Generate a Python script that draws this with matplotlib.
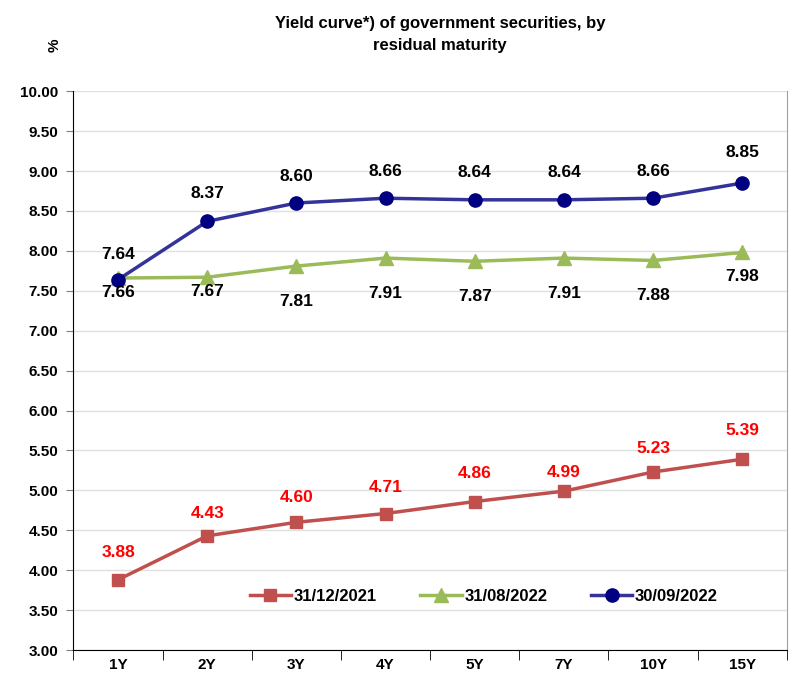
import matplotlib.pyplot as plt

plt.rcParams['font.family'] = ['Liberation Sans', 'DejaVu Sans']

maturities = ['1Y', '2Y', '3Y', '4Y', '5Y', '7Y', '10Y', '15Y']
dec_2021 = [3.88, 4.43, 4.60, 4.71, 4.86, 4.99, 5.23, 5.39]
aug_2022 = [7.66, 7.67, 7.81, 7.91, 7.87, 7.91, 7.88, 7.98]
sep_2022 = [7.64, 8.37, 8.60, 8.66, 8.64, 8.64, 8.66, 8.85]
y_ticks = [3.0, 3.5, 4.0, 4.5, 5.0, 5.5, 6.0, 6.5, 7.0, 7.5, 8.0, 8.5, 9.0, 9.5, 10.0]

# vertical label offsets in pixels (label centre relative to point)
dec_offsets = [27, 22, 25, 26, 28, 19, 24, 29]
aug_offsets = [-14, -14, -35, -35, -35, -35, -35, -24]
sep_offsets = [25, 28, 27, 27, 27, 27, 27, 31]

fig = plt.figure(figsize=(8.07, 6.74), dpi=100)
ax = fig.add_axes([0.091, 0.0356, 0.884, 0.829])
x = range(len(maturities))

ax.plot(x, dec_2021, color='#C0504D', lw=2.5, marker='s', ms=8.5, label='31/12/2021')
ax.plot(x, aug_2022, color='#9BBB59', lw=2.5, marker='^', ms=9.5, label='31/08/2022')
ax.plot(x, sep_2022, color='#333399', lw=2.5, marker='o', ms=9.5,
        markerfacecolor='#000080', markeredgecolor='#000080', label='30/09/2022')

px = 72 / fig.dpi
for i in x:
    ax.annotate(f'{dec_2021[i]:.2f}', (i, dec_2021[i]), xytext=(0, dec_offsets[i] * px),
                textcoords='offset points', ha='center', va='center',
                color='#FF0000', fontsize=12.5, fontweight='bold')
    ax.annotate(f'{aug_2022[i]:.2f}', (i, aug_2022[i]), xytext=(0, aug_offsets[i] * px),
                textcoords='offset points', ha='center', va='center',
                color='black', fontsize=12.5, fontweight='bold')
    ax.annotate(f'{sep_2022[i]:.2f}', (i, sep_2022[i]), xytext=(0, sep_offsets[i] * px),
                textcoords='offset points', ha='center', va='center',
                color='black', fontsize=12.5, fontweight='bold')

ax.set_xlim(-0.5, len(maturities) - 0.5)
ax.set_ylim(3.0, 10.0)
ax.set_yticks(y_ticks)
ax.set_yticklabels([f'{v:.2f}' for v in y_ticks], fontsize=11, fontweight='bold')
ax.set_xticks(list(x))
ax.set_xticklabels(maturities, fontsize=11, fontweight='bold')
ax.tick_params(axis='x', length=0, pad=6)
ax.set_xticks([i - 0.5 for i in range(len(maturities) + 1)], minor=True)
ax.tick_params(axis='x', which='minor', length=7, color='black', direction='out')
ax.tick_params(axis='y', length=5, color='#808080', pad=6)
ax.grid(axis='y', color='#E0E0E0', lw=1)
ax.set_axisbelow(True)
ax.spines['top'].set_visible(False)
ax.spines['right'].set_color('#A0A0A0')
ax.spines['left'].set_color('black')
ax.spines['bottom'].set_color('black')

ax.legend(loc='center', bbox_to_anchor=(0.575, 0.096), ncol=3, frameon=False,
          prop={'size': 12, 'weight': 'bold'}, handlelength=2.5, handletextpad=0.15,
          columnspacing=2.6)

fig.text(0.545, 0.976, 'Yield curve*) of government securities, by\nresidual maturity',
         ha='center', va='top', fontsize=12, fontweight='bold', linespacing=1.6)
fig.text(0.068, 0.933, '%', rotation=90, ha='center', va='center', fontsize=11, fontweight='bold')

fig.savefig('out.png', dpi=100)
